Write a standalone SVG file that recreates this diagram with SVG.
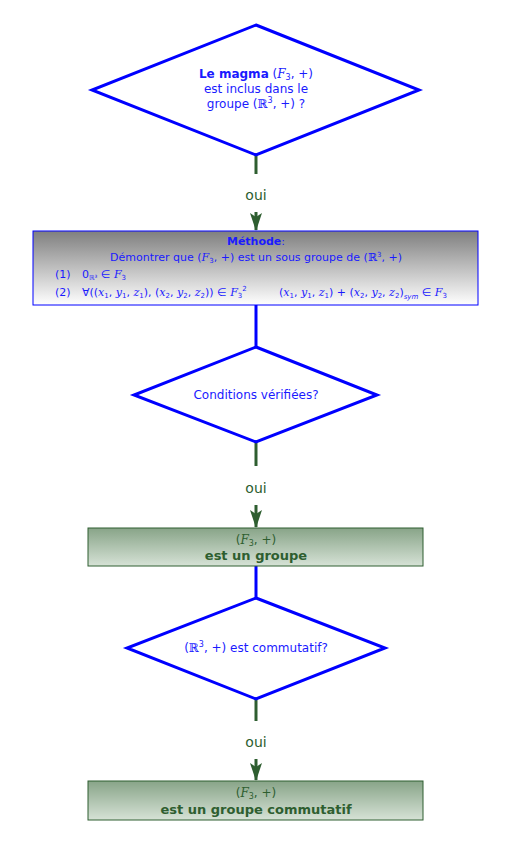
<svg xmlns="http://www.w3.org/2000/svg" width="522" height="841" viewBox="0 0 522 841">
<defs>
<linearGradient id="gGray" x1="0" y1="0" x2="0" y2="1"><stop offset="0" stop-color="#7f7f7f"/><stop offset="1" stop-color="#ffffff"/></linearGradient>
<linearGradient id="gGreen" x1="0" y1="0" x2="0" y2="1"><stop offset="0" stop-color="#88a488"/><stop offset="1" stop-color="#d6e2d6"/></linearGradient>
<marker id="arr" markerWidth="18" markerHeight="14" refX="17" refY="6" orient="auto" markerUnits="userSpaceOnUse" viewBox="0 0 18 12">
<path d="M0,0 L4,6 L0,12 L18,6 Z" fill="#2e5e30"/>
</marker>
</defs>
<style>
.dia{fill:#fff;stroke:#0000ff;stroke-width:3;stroke-linejoin:miter}
.blue{fill:#1a1aff;font-family:"DejaVu Sans","Liberation Sans",sans-serif}
.grn{fill:#2e5e30;font-family:"DejaVu Sans","Liberation Sans",sans-serif}
.gline{stroke:#2e5e30;stroke-width:3;fill:none}
.bline{stroke:#0000ff;stroke-width:3;fill:none}
.m{font-family:"DejaVu Serif","Liberation Serif",serif;font-style:italic}
.mr{font-family:"DejaVu Serif","Liberation Serif",serif}
</style>
<g id="connectors">
<line class="gline" x1="256" y1="155" x2="256" y2="174"/>
<text class="grn" x="256" y="200" font-size="14" text-anchor="middle">oui</text>
<line class="gline" x1="256" y1="212" x2="256" y2="230" marker-end="url(#arr)"/>
<line class="bline" x1="256" y1="305" x2="256" y2="347"/>
<line class="gline" x1="256" y1="442" x2="256" y2="466"/>
<text class="grn" x="256" y="493" font-size="14" text-anchor="middle">oui</text>
<line class="gline" x1="256" y1="505" x2="256" y2="527" marker-end="url(#arr)"/>
<line class="bline" x1="256" y1="566" x2="256" y2="598"/>
<line class="gline" x1="256" y1="699" x2="256" y2="721"/>
<text class="grn" x="256" y="747" font-size="14" text-anchor="middle">oui</text>
<line class="gline" x1="256" y1="759" x2="256" y2="780" marker-end="url(#arr)"/>
</g>
<g id="q1">
<polygon class="dia" points="256,25 419,90 256,155 92,90"/>
<text class="blue" x="256" y="78" font-size="12" text-anchor="middle"><tspan font-weight="bold">Le magma</tspan> (<tspan class="m">F</tspan><tspan font-size="8" dy="2">3</tspan><tspan dy="-2">, +)</tspan></text>
<text class="blue" x="256" y="93" font-size="12" text-anchor="middle">est inclus dans le</text>
<text class="blue" x="256" y="108" font-size="12" text-anchor="middle">groupe (<tspan class="mr">ℝ</tspan><tspan font-size="8" dy="-5">3</tspan><tspan dy="5">, +) ?</tspan></text>
</g>
<g id="methode">
<rect x="33" y="231" width="445" height="74" fill="url(#gGray)" stroke="#0000ff" stroke-width="1"/>
<text class="blue" x="256" y="245" font-size="11" text-anchor="middle"><tspan font-weight="bold">Méthode</tspan>:</text>
<text class="blue" x="256" y="261" font-size="11" text-anchor="middle">Démontrer que (<tspan class="m">F</tspan><tspan font-size="7" dy="2">3</tspan><tspan dy="-2">, +) est un sous groupe de (</tspan><tspan class="mr">ℝ</tspan><tspan font-size="7" dy="-4">3</tspan><tspan dy="4">, +)</tspan></text>
<text class="blue" x="55" y="278" font-size="11">(1)</text>
<text class="blue" x="82" y="278" font-size="11">0<tspan font-size="7" dy="2">ℝ³</tspan><tspan dy="-2"> ∈ </tspan><tspan class="m">F</tspan><tspan font-size="7" dy="2">3</tspan></text>
<text class="blue" x="55" y="296" font-size="11">(2)</text>
<text class="blue" x="82" y="296" font-size="11">∀((<tspan class="m">x</tspan><tspan font-size="7" dy="2">1</tspan><tspan dy="-2">, </tspan><tspan class="m">y</tspan><tspan font-size="7" dy="2">1</tspan><tspan dy="-2">, </tspan><tspan class="m">z</tspan><tspan font-size="7" dy="2">1</tspan><tspan dy="-2">), (</tspan><tspan class="m">x</tspan><tspan font-size="7" dy="2">2</tspan><tspan dy="-2">, </tspan><tspan class="m">y</tspan><tspan font-size="7" dy="2">2</tspan><tspan dy="-2">, </tspan><tspan class="m">z</tspan><tspan font-size="7" dy="2">2</tspan><tspan dy="-2">)) ∈ </tspan><tspan class="m">F</tspan><tspan font-size="7" dy="2">3</tspan><tspan font-size="7" dy="-7">2</tspan></text>
<text class="blue" x="279" y="296" font-size="11">(<tspan class="m">x</tspan><tspan font-size="7" dy="2">1</tspan><tspan dy="-2">, </tspan><tspan class="m">y</tspan><tspan font-size="7" dy="2">1</tspan><tspan dy="-2">, </tspan><tspan class="m">z</tspan><tspan font-size="7" dy="2">1</tspan><tspan dy="-2">) + (</tspan><tspan class="m">x</tspan><tspan font-size="7" dy="2">2</tspan><tspan dy="-2">, </tspan><tspan class="m">y</tspan><tspan font-size="7" dy="2">2</tspan><tspan dy="-2">, </tspan><tspan class="m">z</tspan><tspan font-size="7" dy="2">2</tspan><tspan dy="-2">)</tspan><tspan font-size="7" font-style="italic" dy="3">sym</tspan><tspan dy="-3"> ∈ </tspan><tspan class="m">F</tspan><tspan font-size="7" dy="2">3</tspan></text>
</g>
<g id="q2">
<polygon class="dia" points="256,347 377,395 256,442 134,395"/>
<text class="blue" x="256" y="399" font-size="12" text-anchor="middle">Conditions vérifiées?</text>
</g>
<g id="groupe">
<rect x="88" y="528" width="335" height="38" fill="url(#gGreen)" stroke="#2e5e30" stroke-width="1"/>
<text class="grn" x="256" y="544" font-size="12" text-anchor="middle">(<tspan class="m">F</tspan><tspan font-size="8" dy="2">3</tspan><tspan dy="-2">, +)</tspan></text>
<text class="grn" x="256" y="560" font-size="13" font-weight="bold" text-anchor="middle">est un groupe</text>
</g>
<g id="q3">
<polygon class="dia" points="256,598 385,648 256,699 127,648"/>
<text class="blue" x="256" y="652" font-size="12" text-anchor="middle">(<tspan class="mr">ℝ</tspan><tspan font-size="8" dy="-5">3</tspan><tspan dy="5">, +) est commutatif?</tspan></text>
</g>
<g id="commutatif">
<rect x="88" y="781" width="335" height="39" fill="url(#gGreen)" stroke="#2e5e30" stroke-width="1"/>
<text class="grn" x="256" y="797" font-size="12" text-anchor="middle">(<tspan class="m">F</tspan><tspan font-size="8" dy="2">3</tspan><tspan dy="-2">, +)</tspan></text>
<text class="grn" x="256" y="814" font-size="13" font-weight="bold" text-anchor="middle">est un groupe commutatif</text>
</g>
</svg>
